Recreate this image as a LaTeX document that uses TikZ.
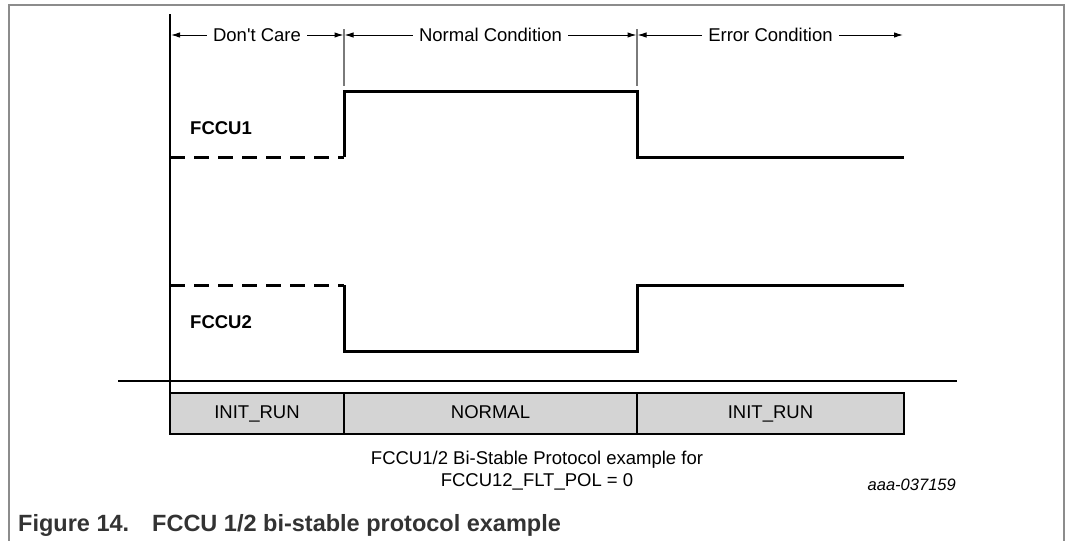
\documentclass[tikz,border=0pt]{standalone}
\usepackage{fontspec}
\setmainfont{Liberation Sans}[Ligatures=TeXOff]
\usetikzlibrary{arrows.meta}
\definecolor{cellgrey}{HTML}{D4D4D4}
\definecolor{framegrey}{HTML}{8C8C8C}
\definecolor{tickgrey}{HTML}{7A7A7A}
\definecolor{capgrey}{HTML}{333333}
\begin{document}
\begin{tikzpicture}[x=1pt,y=-1pt,
  lbl/.style={font=\fontsize{18.5}{22}\selectfont, inner sep=0pt},
  dimlbl/.style={font=\fontsize{18.5}{22}\selectfont, inner xsep=6pt, inner ysep=0pt},
  siglbl/.style={font=\bfseries\fontsize{18.5}{22}\selectfont, inner sep=0pt, anchor=west},
  sig/.style={line width=3pt, line join=miter},
  dsig/.style={line width=3pt, dash pattern=on 15pt off 9pt},
  dimarrow/.style={line width=1pt, -{Latex[length=9pt,width=5.5pt]}},
  cell/.style={draw, line width=2.5pt, fill=cellgrey, minimum height=41pt, inner sep=0pt,
    text height=13.5pt, text depth=3.5pt, font=\fontsize{18.5}{22}\selectfont},
  tickline/.style={draw=tickgrey, line width=1.3pt},
  figcap/.style={font=\bfseries\fontsize{23.5}{28}\selectfont, text=capgrey, inner sep=0pt, anchor=base west},
]
\useasboundingbox (0,0) rectangle (1066,541);
% frame
\draw[framegrey, line width=1.5pt] (9,541) -- (9,5) -- (1064,5) -- (1064,541);

% time marks
\coordinate (t0) at (170,35);
\coordinate (t1) at (344,35);
\coordinate (t2) at (637,35);
\coordinate (t3) at (904,35);

% axis and separators
\coordinate (axtop) at (170,14);
\coordinate (axbot) at (170,393);
\draw[line width=1.5pt] (axtop) -- (axbot);
\coordinate (k1a) at (344,29); \coordinate (k1b) at (344,86);
\coordinate (k2a) at (637,29); \coordinate (k2b) at (637,86);
\draw[tickline] (k1a) -- (k1b);
\draw[tickline] (k2a) -- (k2b);

% dimension labels
\node[dimlbl] (dc) at (257,35) {Don't Care};
\node[dimlbl] (nc) at (490.5,35) {Normal Condition};
\node[dimlbl] (ec) at (770.5,35) {Error Condition};
\draw[dimarrow] (dc.west) -- ([xshift=1pt]t0);
\draw[dimarrow] (dc.east) -- ([xshift=-0.5pt]t1);
\draw[dimarrow] (nc.west) -- ([xshift=0.5pt]t1);
\draw[dimarrow] (nc.east) -- ([xshift=-0.5pt]t2);
\draw[dimarrow] (ec.west) -- ([xshift=0.5pt]t2);
\draw[dimarrow] (ec.east) -- ([xshift=-1pt]t3);

% FCCU1
\coordinate (a0) at (170,157);
\coordinate (a1) at (344,157);
\coordinate (a2) at (344,91);
\coordinate (a3) at (637,91);
\coordinate (a4) at (637,157);
\coordinate (a5) at (904,157);
\draw[dsig] (a0) -- (a1);
\draw[sig] (a1) -- (a2) -- (a3) -- (a4) -- (a5);
\node[siglbl] (f1) at (190,128) {FCCU1};

% FCCU2
\coordinate (b0) at (170,285);
\coordinate (b1) at (344,285);
\coordinate (b2) at (344,351);
\coordinate (b3) at (637,351);
\coordinate (b4) at (637,285);
\coordinate (b5) at (904,285);
\draw[dsig] (b0) -- (b1);
\draw[sig] (b1) -- (b2) -- (b3) -- (b4) -- (b5);
\node[siglbl] (f2) at (190,322) {FCCU2};

% horizontal separator
\coordinate (h0) at (118,381);
\coordinate (h1) at (957,381);
\draw[line width=1.2pt] (h0) -- (h1);

% state bar
\node[cell, minimum width=174pt] (s1) at (257,413.5) {INIT\_RUN};
\node[cell, minimum width=293pt] (s2) at (490.5,413.5) {NORMAL};
\node[cell, minimum width=267pt] (s3) at (770.5,413.5) {INIT\_RUN};

% captions
\node[lbl, align=center] (cap) at (537,471) {FCCU1/2 Bi-Stable Protocol example for\\FCCU12\_FLT\_POL = 0};
\node[font=\itshape\fontsize{16.5}{20}\selectfont, inner sep=0pt, anchor=east] (id) at (956,485) {aaa-037159};
\node[figcap] (fig) at (18,531) {Figure 14.};
\node[figcap] (figt) at (152,531) {FCCU 1/2 bi-stable protocol example};
\end{tikzpicture}
\end{document}
